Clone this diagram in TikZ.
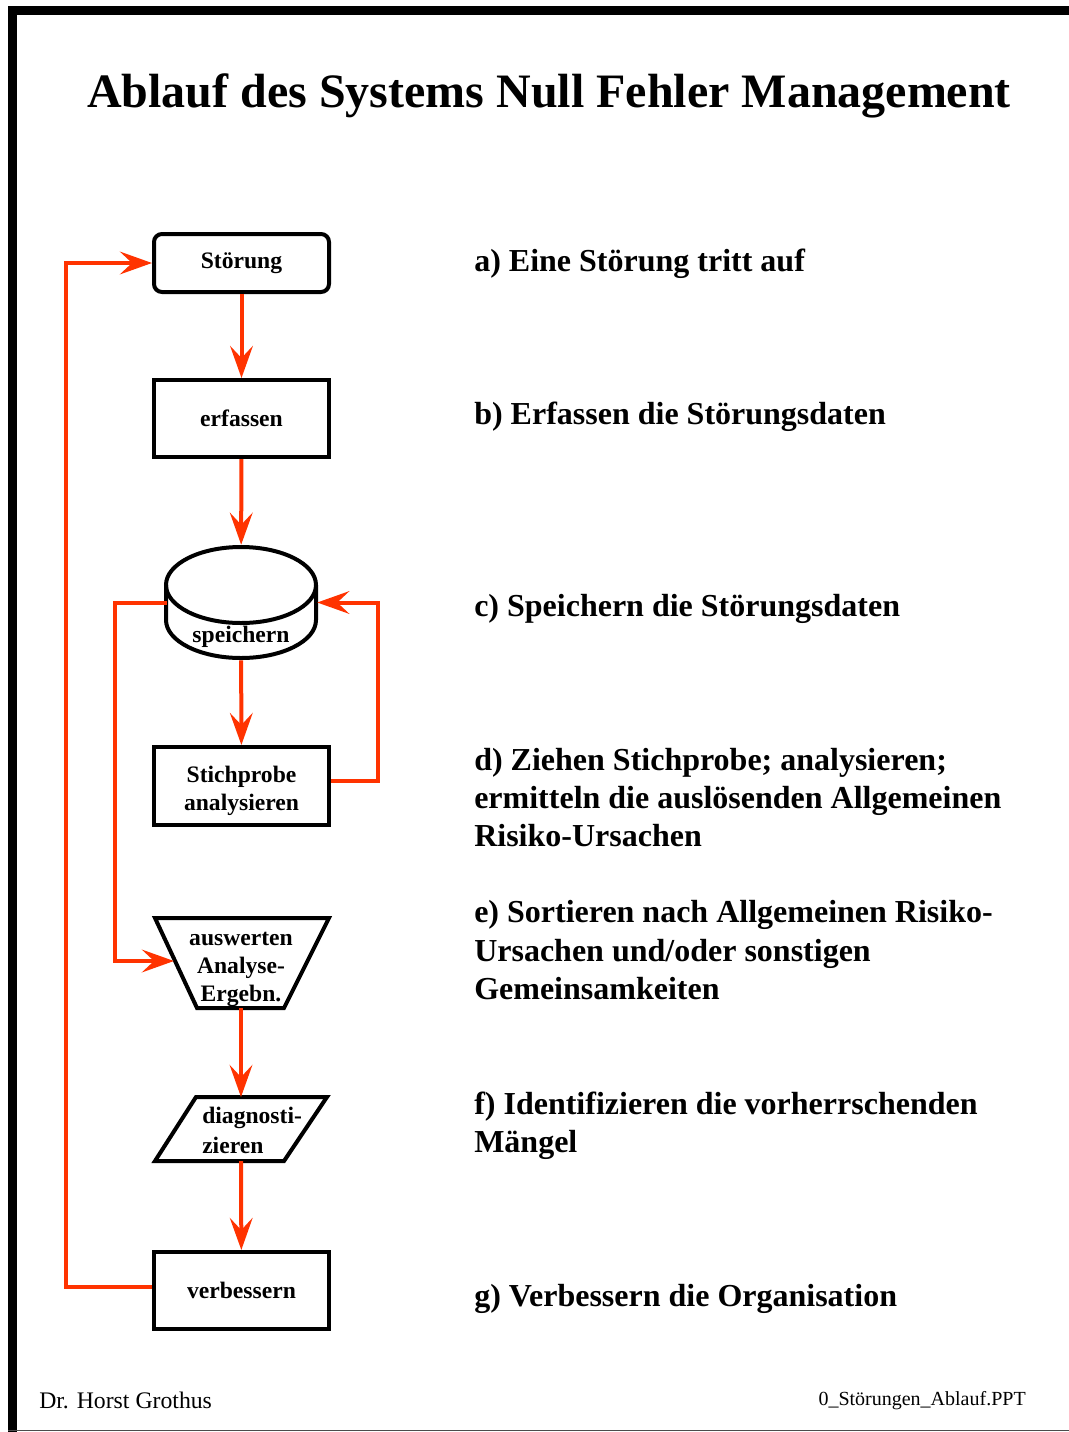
\documentclass[tikz,border=0pt]{standalone}
\usepackage{fontspec}
\setmainfont{Liberation Serif}
\usetikzlibrary{arrows.meta,calc}

\definecolor{flowred}{RGB}{255,51,0}

\tikzset{
  stepbox/.style={draw, line width=3pt, fill=white, minimum width=131.25pt,
    inner sep=0pt, align=center, font=\fontsize{17.7}{21}\selectfont\bfseries},
  boxtext/.style={inner sep=0pt, align=center, font=\fontsize{17.7}{21}\selectfont\bfseries},
  shapeline/.style={line width=3pt, line join=miter},
  flow/.style={draw=flowred, line width=3pt,
    -{Stealth[length=24pt, width=17pt, inset=9pt]}},
  desc/.style={anchor=base west, inner sep=0pt, font=\fontsize{24}{29}\selectfont\bfseries},
}

\begin{document}
\begin{tikzpicture}[x=0.75pt, y=-0.75pt]
\useasboundingbox (0,0) rectangle (1069,1432);

% page frame
\fill[black] (8,6) rectangle (1069,15);
\fill[black] (8,6) rectangle (17,1432);
\draw[line width=0.75pt, black!70] (8,1430.5) -- (1069,1430.5);

% title
\node[anchor=base, inner sep=0pt, font=\fontsize{36}{40}\selectfont\bfseries] (title) at (549,107)
  {Ablauf des Systems Null Fehler Management};

% flowchart nodes
\node[stepbox, rounded corners=6pt, minimum height=43.5pt] (stoer) at (241.5,263) {Störung};
\node[stepbox, minimum height=57.75pt] (erf) at (241.5,418.5) {erfassen};

% storage cylinder
\node[minimum width=114pt, minimum height=86.25pt, inner sep=0pt] (spei) at (241,602.5) {};
\draw[shapeline, fill=white] (166,585) -- (166,620) arc[start angle=180, end angle=0, x radius=75, y radius=38] -- (316,585);
\draw[shapeline] (241,585) ellipse[x radius=75, y radius=38];
\node[boxtext, anchor=base] (speitxt) at (241,642) {speichern};

\node[stepbox, minimum height=58.5pt] (stich) at (241.5,786) {};
\node[boxtext] (stichtxt) at (241.5,791) {Stichprobe\\analysieren};

% evaluation (trapezoid)
\draw[shapeline, fill=white] (155,918) -- (329,918) -- (284,1008) -- (197,1008) -- cycle;
\node[boxtext] (ausw) at (241,969) {auswerten\\Analyse-\\Ergebn.};
\coordinate (auswT) at (241,918);
\coordinate (auswB) at (241,1008);
\coordinate (auswL) at (174,961);

% diagnosis (parallelogram)
\draw[shapeline, fill=white] (196,1097) -- (327,1097) -- (284,1161) -- (155,1161) -- cycle;
\node[boxtext, anchor=west, align=left, font=\fontsize{17.7}{22.5}\selectfont\bfseries] (diag) at (202,1130) {diagnosti-\\zieren};
\coordinate (diagT) at (241,1097);
\coordinate (diagB) at (241,1161);

\node[stepbox, minimum height=57.75pt] (verb) at (241.5,1290.5) {verbessern};

% main flow
\draw[flow] (stoer) -- (erf);
\draw[flow] (erf) -- (spei);
\draw[flow] (spei) -- (stich);
\draw[flow] (auswB) -- (diagT);
\draw[flow] (diagB) -- (verb);

% feedback loops
\draw[flow] ([yshift=3.75pt]stich.east) -- ++(47,0) |- (spei.east);
\draw[flow] ([xshift=1.5pt]spei.west) -- ++(-52,0) |- (auswL);
\draw[flow] ([yshift=2.6pt]verb.west) -- ++(-86,0) |- (stoer.west);

% step descriptions
\node[desc] (a1) at (474,271.5) {a) Eine Störung tritt auf};
\node[desc] (b1) at (474,424.5) {b) Erfassen die Störungsdaten};
\node[desc] (c1) at (474,616.5) {c) Speichern die Störungsdaten};
\node[desc] (d1) at (474,770.5) {d) Ziehen Stichprobe; analysieren;};
\node[desc] (d2) at (474,808.5) {ermitteln die auslösenden Allgemeinen};
\node[desc] (d3) at (474,846.5) {Risiko-Ursachen};
\node[desc] (e1) at (474,922.5) {e) Sortieren nach Allgemeinen Risiko-};
\node[desc] (e2) at (474,961.5) {Ursachen und/oder sonstigen};
\node[desc] (e3) at (474,999.5) {Gemeinsamkeiten};
\node[desc] (f1) at (474,1114.5) {f) Identifizieren die vorherrschenden};
\node[desc] (f2) at (474,1152.5) {Mängel};
\node[desc] (g1) at (474,1306.5) {g) Verbessern die Organisation};

% footer
\node[anchor=base west, inner sep=0pt, font=\fontsize{17.8}{20}\selectfont] (author) at (39,1408) {Dr. Horst Grothus};
\node[anchor=base east, inner sep=0pt, font=\fontsize{15}{18}\selectfont] (file) at (1026,1405) {0\_Störungen\_Ablauf.PPT};
\end{tikzpicture}
\end{document}
